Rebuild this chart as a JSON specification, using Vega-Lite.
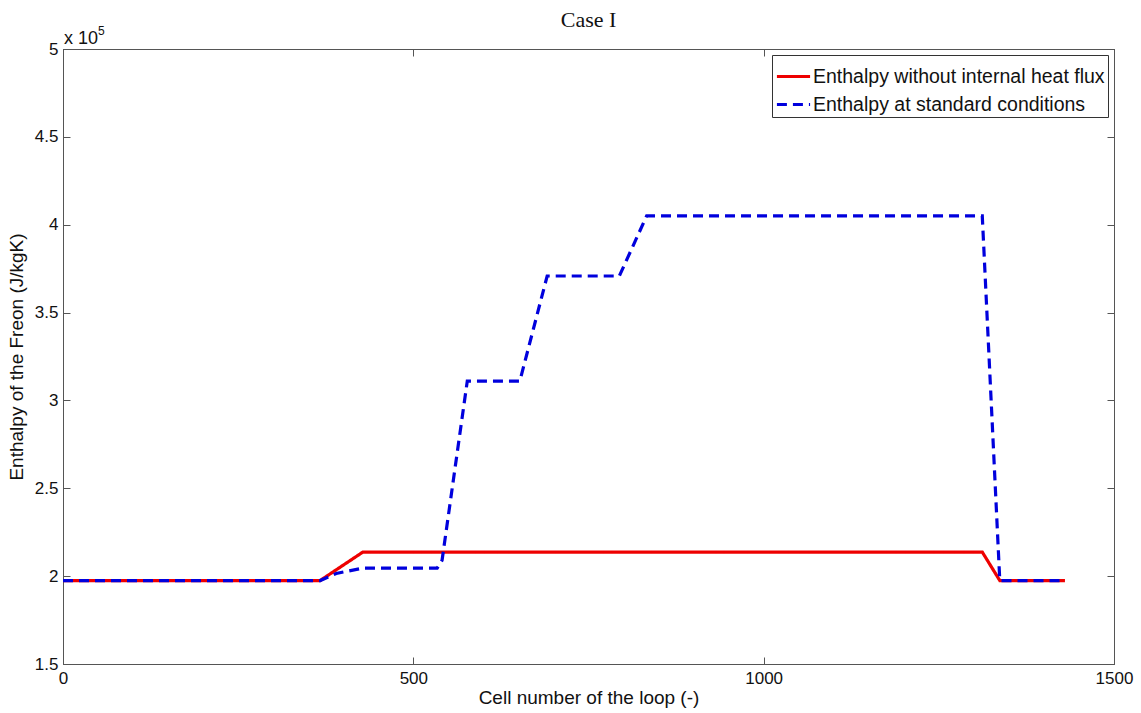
{
  "$schema": "https://vega.github.io/schema/vega-lite/v6.json",
  "width": 1051,
  "height": 615,
  "autosize": {"type": "none"},
  "padding": {"left": 63, "top": 49, "right": 27, "bottom": 49},
  "background": "white",
  "title": {
    "text": "Case I",
    "font": "Liberation Serif",
    "fontSize": 22,
    "fontWeight": "normal",
    "color": "#111",
    "anchor": "middle",
    "frame": "group",
    "baseline": "alphabetic",
    "offset": -24
  },
  "config": {
    "view": {"stroke": "#555", "strokeWidth": 1},
    "axis": {
      "grid": false,
      "domainColor": "#555",
      "tickColor": "#555",
      "labelFont": "Liberation Sans",
      "labelFontSize": 17,
      "labelColor": "#111",
      "labelFlush": false,
      "titleFont": "Liberation Sans",
      "titleFontSize": 19,
      "titleFontWeight": "normal",
      "titleColor": "#111",
      "tickSize": -7
    }
  },
  "datasets": {
    "curves": [
      {"cell": 0, "enthalpy": 197500, "series": "Enthalpy without internal heat flux"},
      {"cell": 367, "enthalpy": 197500, "series": "Enthalpy without internal heat flux"},
      {"cell": 428, "enthalpy": 213700, "series": "Enthalpy without internal heat flux"},
      {"cell": 1312, "enthalpy": 213700, "series": "Enthalpy without internal heat flux"},
      {"cell": 1337, "enthalpy": 197500, "series": "Enthalpy without internal heat flux"},
      {"cell": 1430, "enthalpy": 197500, "series": "Enthalpy without internal heat flux"},
      {"cell": 0, "enthalpy": 197500, "series": "Enthalpy at standard conditions"},
      {"cell": 367, "enthalpy": 197500, "series": "Enthalpy at standard conditions"},
      {"cell": 390, "enthalpy": 201500, "series": "Enthalpy at standard conditions"},
      {"cell": 428, "enthalpy": 204600, "series": "Enthalpy at standard conditions"},
      {"cell": 534, "enthalpy": 204600, "series": "Enthalpy at standard conditions"},
      {"cell": 541, "enthalpy": 209000, "series": "Enthalpy at standard conditions"},
      {"cell": 577, "enthalpy": 311000, "series": "Enthalpy at standard conditions"},
      {"cell": 652, "enthalpy": 311000, "series": "Enthalpy at standard conditions"},
      {"cell": 691, "enthalpy": 370800, "series": "Enthalpy at standard conditions"},
      {"cell": 794, "enthalpy": 370800, "series": "Enthalpy at standard conditions"},
      {"cell": 833, "enthalpy": 405000, "series": "Enthalpy at standard conditions"},
      {"cell": 1312, "enthalpy": 405000, "series": "Enthalpy at standard conditions"},
      {"cell": 1337, "enthalpy": 197500, "series": "Enthalpy at standard conditions"},
      {"cell": 1430, "enthalpy": 197500, "series": "Enthalpy at standard conditions"}
    ],
    "note": [
      {"cell": 0, "enthalpy": 500000, "base": "x 10", "exp": "5"}
    ]
  },
  "layer": [
    {
      "data": {"name": "curves"},
      "mark": {"type": "line", "strokeWidth": 3.2, "clip": true},
      "encoding": {
        "x": {
          "field": "cell", "type": "quantitative",
          "scale": {"domain": [0, 1500], "nice": false, "zero": false},
          "axis": {"orient": "bottom", "values": [0, 500, 1000, 1500], "format": "d", "title": "Cell number of the loop (-)", "labelPadding": 13, "titlePadding": 2}
        },
        "y": {
          "field": "enthalpy", "type": "quantitative",
          "scale": {"domain": [150000, 500000], "nice": false, "zero": false},
          "axis": {"orient": "left", "values": [150000, 200000, 250000, 300000, 350000, 400000, 450000, 500000],
                   "labelExpr": "toString(datum.value / 100000)", "title": "Enthalpy of the Freon (J/kgK)", "labelPadding": 12, "titlePadding": 8}
        },
        "color": {
          "field": "series", "type": "nominal",
          "scale": {"domain": ["Enthalpy without internal heat flux", "Enthalpy at standard conditions"], "range": ["#ee0000", "#0000dd"]},
          "legend": {
            "title": null, "orient": "top-right", "offset": 6,
            "symbolType": "stroke", "symbolSize": 1100, "symbolStrokeWidth": 3,
            "labelFont": "Liberation Sans", "labelFontSize": 19.5, "labelColor": "#111", "labelOffset": 1, "labelLimit": 500,
            "strokeColor": "#333", "fillColor": "white", "padding": 3, "rowPadding": -12
          }
        },
        "strokeDash": {
          "field": "series", "type": "nominal",
          "scale": {"domain": ["Enthalpy without internal heat flux", "Enthalpy at standard conditions"], "range": [[1, 0], [10, 6]]},
          "legend": null
        },
        "order": {"field": "cell", "type": "quantitative"}
      }
    },
    {
      "data": {"name": "curves"},
      "mark": {"type": "line", "opacity": 0},
      "encoding": {
        "x": {"field": "cell", "type": "quantitative", "axis": {"orient": "top", "values": [0, 500, 1000, 1500], "labels": false, "title": null}},
        "y": {"field": "enthalpy", "type": "quantitative", "axis": {"orient": "right", "values": [150000, 200000, 250000, 300000, 350000, 400000, 450000, 500000], "labels": false, "title": null}}
      }
    },
    {
      "data": {"name": "note"},
      "mark": {"type": "text", "font": "Liberation Sans", "fontSize": 18, "color": "#111", "align": "left", "baseline": "alphabetic", "dx": 1, "dy": -5},
      "encoding": {
        "x": {"field": "cell", "type": "quantitative", "axis": null},
        "y": {"field": "enthalpy", "type": "quantitative", "axis": null},
        "text": {"field": "base"}
      }
    },
    {
      "data": {"name": "note"},
      "mark": {"type": "text", "font": "Liberation Sans", "fontSize": 12, "color": "#111", "align": "left", "baseline": "alphabetic", "dx": 35, "dy": -14},
      "encoding": {
        "x": {"field": "cell", "type": "quantitative", "axis": null},
        "y": {"field": "enthalpy", "type": "quantitative", "axis": null},
        "text": {"field": "exp"}
      }
    }
  ],
  "resolve": {"axis": {"x": "independent", "y": "independent"}}
}
